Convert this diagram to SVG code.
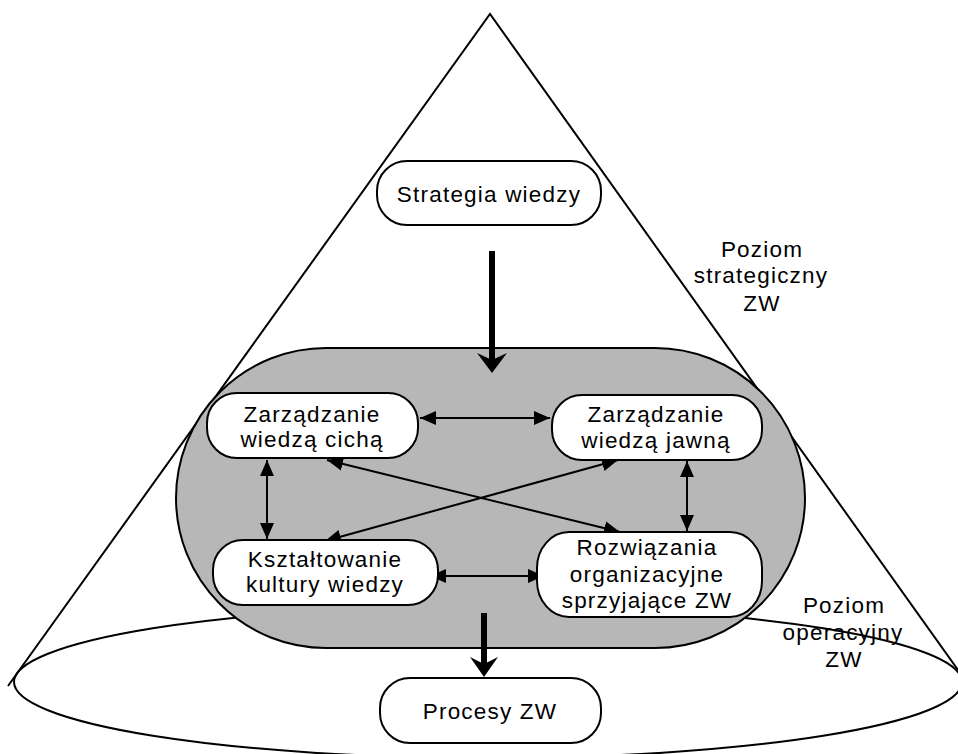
<svg xmlns="http://www.w3.org/2000/svg" width="958" height="754" viewBox="0 0 958 754">
<style>
.t{font-family:"Liberation Sans",Arial,sans-serif;font-size:22.5px;letter-spacing:1.2px;fill:#000;text-anchor:middle}
.node{fill:#fff;stroke:#000;stroke-width:2}
.thin{stroke:#000;stroke-width:2;fill:none;marker-start:url(#ah);marker-end:url(#ah)}
.thick{stroke:#000;stroke-width:6;fill:none}
.outline{fill:none;stroke:#000;stroke-width:2}
</style>
<defs>
<marker id="ah" markerUnits="userSpaceOnUse" markerWidth="17" markerHeight="15" refX="16" refY="7" orient="auto-start-reverse" viewBox="0 0 17 15">
<path d="M0,0 L16,7 L0,14 z" fill="#000"/>
</marker>
</defs>
<rect width="958" height="754" fill="#fff"/>
<g id="cone">
<polyline class="outline" points="8,686 490,14 958,670"/>
<ellipse class="outline" cx="488" cy="682" rx="474" ry="76"/>
</g>
<g id="gray-area">
<rect x="176" y="348" width="629" height="300" rx="150" ry="150" fill="#b7b7b7" stroke="#000" stroke-width="2"/>
</g>
<g id="connectors">
<line class="thin" x1="420" y1="418" x2="550" y2="418"/>
<line class="thin" x1="267" y1="460" x2="267" y2="539"/>
<line class="thin" x1="687" y1="461" x2="687" y2="531"/>
<line class="thin" x1="430" y1="576" x2="544" y2="576"/>
<line class="thin" x1="327" y1="460" x2="620" y2="532"/>
<line class="thin" x1="618" y1="460" x2="325" y2="541"/>
<line class="thick" x1="492" y1="251" x2="492" y2="360"/>
<polygon points="492,373 477,353 492,360 507,353" fill="#000"/>
<line class="thick" x1="484" y1="613" x2="484" y2="665"/>
<polygon points="484,677 470,657 484,664 498,657" fill="#000"/>
</g>
<g id="strategia">
<rect class="node" x="377" y="161" width="224" height="64" rx="30" ry="30"/>
<text class="t" x="489" y="202">Strategia wiedzy</text>
</g>
<g id="zarz-cicha">
<rect class="node" x="207" y="393" width="211" height="65" rx="30" ry="30"/>
<text class="t" x="312" y="422">Zarządzanie</text>
<text class="t" x="312" y="447">wiedzą cichą</text>
</g>
<g id="zarz-jawna">
<rect class="node" x="552" y="395" width="210" height="65" rx="30" ry="30"/>
<text class="t" x="656" y="422">Zarządzanie</text>
<text class="t" x="656" y="448">wiedzą jawną</text>
</g>
<g id="ksztaltowanie">
<rect class="node" x="213" y="540" width="225" height="65" rx="30" ry="30"/>
<text class="t" x="325" y="567">Kształtowanie</text>
<text class="t" x="325" y="592">kultury wiedzy</text>
</g>
<g id="rozwiazania">
<rect class="node" x="537" y="532" width="225" height="85" rx="32" ry="36"/>
<text class="t" x="647" y="555">Rozwiązania</text>
<text class="t" x="647" y="582">organizacyjne</text>
<text class="t" x="647" y="608">sprzyjające ZW</text>
</g>
<g id="procesy">
<rect class="node" x="380" y="678" width="221" height="65" rx="30" ry="30"/>
<text class="t" x="490" y="719">Procesy ZW</text>
</g>
<g id="label-strategiczny">
<text class="t" x="762" y="257">Poziom</text>
<text class="t" x="761" y="283">strategiczny</text>
<text class="t" x="762" y="311">ZW</text>
</g>
<g id="label-operacyjny">
<text class="t" x="844" y="613">Poziom</text>
<text class="t" x="843" y="640">operacyjny</text>
<text class="t" x="844" y="667">ZW</text>
</g>
</svg>
